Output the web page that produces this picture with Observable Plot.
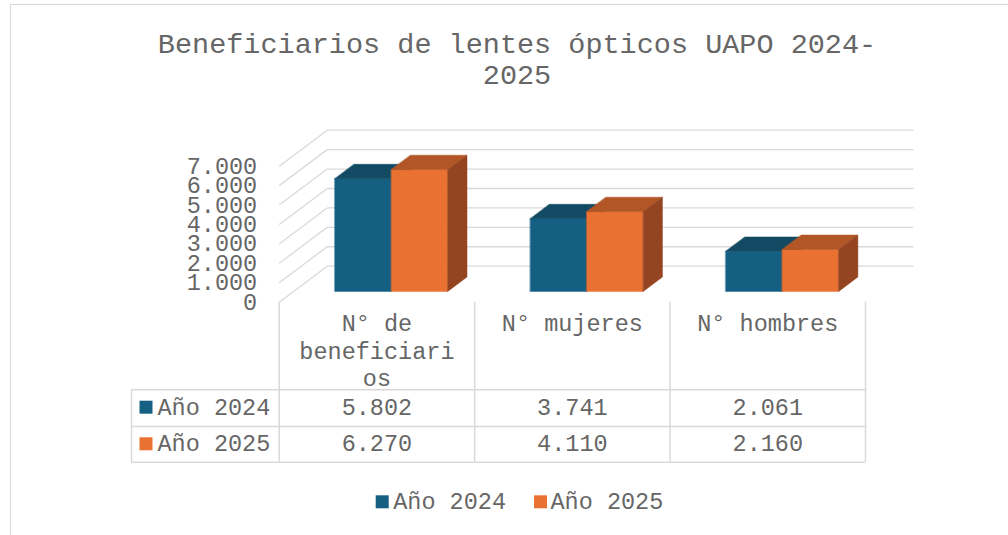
<!DOCTYPE html>
<html><head><meta charset="utf-8">
<script src="https://cdn.jsdelivr.net/npm/d3@7"></script>
<script src="https://cdn.jsdelivr.net/npm/@observablehq/plot@0.6"></script>
<style>
html,body{margin:0;padding:0;background:#fff;}
#wrap{position:relative;width:1008px;height:535px;overflow:hidden;}
#border{position:absolute;left:9.5px;top:3.5px;width:1100px;height:600px;border:1.5px solid #d9d9d9;box-sizing:border-box;}
#chart{position:absolute;left:0;top:0;}
</style></head><body>
<div id="wrap"><div id="border"></div><div id="chart"></div></div>
<script>
// ---- data ----
const title = "Beneficiarios de lentes ópticos UAPO 2024-\n2025";
const categories = ["N° de beneficiarios", "N° mujeres", "N° hombres"];
const seriesNames = ["Año 2024", "Año 2025"];
const values2024 = [5802, 3741, 2061];
const values2025 = [6270, 4110, 2160];
const yTicks = [0, 1000, 2000, 3000, 4000, 5000, 6000, 7000];

// ---- styles / layout ----
const seriesValues = [values2024, values2025];
const faceColors = [
  {front: "#156082", top: "#124A63", side: "#0E3F56"},
  {front: "#E97132", top: "#B25627", side: "#944420"}
];
const textColor = "#666666";
const gridColor = "#d9d9d9";
const X0 = 278.7, X1 = 865, Y0 = 301.7, Y7 = 165.7, W = 1008, H = 535;
const DX = 48 * 3 / (X1 - X0);        // depth offset in x units
const DV = 36 * 7000 / (Y0 - Y7);     // depth offset in value units
const dFront = 0.3, dBack = 0.7, barW = 0.289;
const fmt = d3.formatLocale({decimal: ",", thousands: ".", grouping: [3], currency: ["", " €"]}).format(",d");

function wrap(s, max) {
  const lines = []; let cur = "";
  for (const w of s.split(" ")) {
    let word = w;
    const cand = cur ? cur + " " + word : word;
    if (cand.length <= max) { cur = cand; continue; }
    if (cur) { lines.push(cur); cur = ""; }
    while (word.length > max) { lines.push(word.slice(0, max)); word = word.slice(max); }
    cur = word;
  }
  if (cur) lines.push(cur);
  return lines.join("\n");
}

// polygons for 3D bars
const polys = [];
categories.forEach((c, i) => {
  seriesValues.forEach((vals, s) => {
    const v = vals[i];
    const xl = i + 0.5 - barW + s * barW, xr = xl + barW;
    const P = (x, val, d) => ({x: x + d * DX, v: val + d * DV});
    const faces = {
      front: [P(xl, 0, dFront), P(xr, 0, dFront), P(xr, v, dFront), P(xl, v, dFront)],
      top: [P(xl, v, dFront), P(xr, v, dFront), P(xr, v, dBack), P(xl, v, dBack)],
      side: [P(xr, 0, dFront), P(xr, 0, dBack), P(xr, v, dBack), P(xr, v, dFront)]
    };
    for (const f of ["front", "top", "side"]) {
      faces[f].forEach(p => polys.push({id: `${i}-${s}-${f}`, x: p.x, v: p.v, color: faceColors[s][f]}));
    }
  });
});

const rowDy = [105, 141.6];
const marks = [
  // back wall gridlines
  Plot.link(yTicks, {x1: () => DX, x2: () => 3 + DX, y1: d => d + DV, y2: d => d + DV, stroke: gridColor, strokeWidth: 1.3}),
  // side wall diagonals
  Plot.link(yTicks, {x1: () => 0, x2: () => DX, y1: d => d, y2: d => d + DV, stroke: gridColor, strokeWidth: 1.3}),
  // y axis labels
  Plot.text(yTicks, {x: () => 0, y: d => d, text: d => fmt(d), textAnchor: "end", dx: -22}),
  // bars
  Plot.line(polys, {x: "x", y: "v", z: "id", fill: "color", stroke: "color", strokeWidth: 0.5, curve: "linear-closed"}),
  // data table grid
  Plot.ruleX(d3.range(categories.length + 1), {x: d => d, insetTop: Y0, insetBottom: H - 461.7, stroke: gridColor, strokeWidth: 1.5}),
  Plot.ruleX([0], {x: d => d, dx: 131 - X0, insetTop: 389.3, insetBottom: H - 461.7, stroke: gridColor, strokeWidth: 1.5}),
  ...[87.6, 124.3, 160].map(dy => Plot.ruleY([0], {y: d => d, dy, insetLeft: 131, insetRight: W - X1, stroke: gridColor, strokeWidth: 1.5})),
  // header labels
  Plot.text(categories, {x: (d, i) => i + 0.5, y: () => 0, text: d => wrap(d, 11), lineAnchor: "top", dy: 9.5, lineHeight: 27.5 / 23.5}),
  // values & row labels
  ...seriesValues.flatMap((vals, s) => [
    Plot.text(vals, {x: (d, i) => i + 0.5, y: () => 0, text: d => fmt(d), dy: rowDy[s]}),
    Plot.text([seriesNames[s]], {x: () => 0, y: () => 0, text: d => d, textAnchor: "start", dx: 157 - X0, dy: rowDy[s]}),
    Plot.dot([seriesNames[s]], {x: () => 0, y: () => 0, dx: 145.5 - X0, dy: rowDy[s], symbol: "square", r: 7.33, fill: faceColors[s].front, stroke: "none"}),
    // bottom legend
    Plot.dot([seriesNames[s]], {frameAnchor: "top-left", dx: 381.7 + s * 158.3, dy: 501.3, symbol: "square", r: 7.33, fill: faceColors[s].front, stroke: "none"}),
    Plot.text([seriesNames[s]], {frameAnchor: "top-left", lineAnchor: "middle", text: d => d, textAnchor: "start", dx: 392.7 + s * 157.3, dy: 501.3})
  ]),
  // title
  Plot.text([title], {frameAnchor: "top", lineAnchor: "middle", text: d => d, dx: 12.5, dy: 58, fontSize: 28.5, lineHeight: 1.1})
];

const chart = Plot.plot({
  width: W, height: H, margin: 0,
  x: {domain: [0, 3], range: [X0, X1], axis: null},
  y: {domain: [0, 7000], range: [Y0, Y7], axis: null},
  color: {type: "identity"},
  style: {fontFamily: '"Liberation Mono", monospace', fontSize: "23.5px", color: textColor, background: "transparent", overflow: "visible"},
  marks
});
document.getElementById("chart").appendChild(chart);
</script>
</body></html>
